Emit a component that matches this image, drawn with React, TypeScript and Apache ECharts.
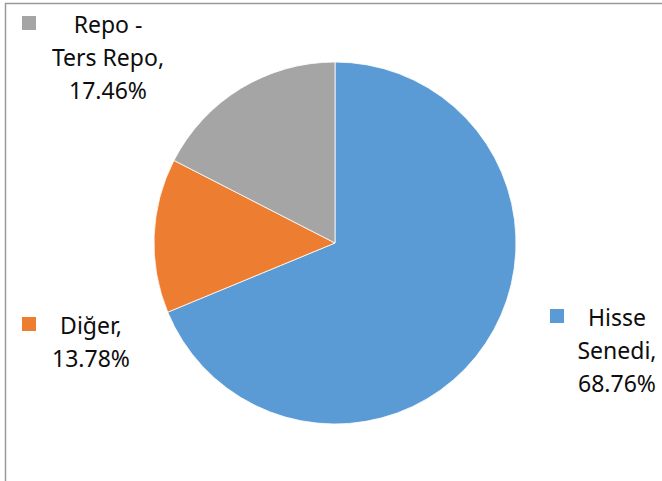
import React, { useEffect, useRef } from "react";
import * as echarts from "echarts";

const categories = ["Hisse Senedi", "Diğer", "Repo - Ters Repo"];
const values = [68.76, 13.78, 17.46];
const labelTexts = ["Hisse\nSenedi,", "Diğer,", "Repo -\nTers Repo,"];
const colors = ["#5B9BD5", "#ED7D31", "#A5A5A5"];

const labelPos = [
  [617, 350],
  [91, 341],
  [108, 57],
];
const markerPos = [
  [550, 309],
  [22, 317],
  [22, 16],
];

export default function App() {
  const ref = useRef<HTMLDivElement>(null);
  useEffect(() => {
    if (!ref.current) return;
    const chart = echarts.init(ref.current, undefined, { renderer: "svg" });
    chart.setOption({
      animation: false,
      backgroundColor: "#ffffff",
      color: colors,
      graphic: [
        {
          type: "polyline",
          shape: { points: [[5.5, 481], [5.5, 3.5], [662, 3.5]] },
          style: { stroke: "#9a9a9a", lineWidth: 1.5, fill: "none" },
          silent: true,
        },
        ...markerPos.map((p, i) => ({
          type: "rect",
          shape: { x: p[0], y: p[1], width: 14, height: 14 },
          style: { fill: colors[i] },
          silent: true,
        })),
      ],
      series: [
        {
          type: "pie",
          center: [335, 243],
          radius: 181,
          startAngle: 90,
          clockwise: true,
          itemStyle: { borderColor: "#ffffff", borderWidth: 0.8 },
          emphasis: { disabled: true },
          labelLine: { show: false },
          label: {
            show: true,
            formatter: (p: any) => `${labelTexts[p.dataIndex]}\n${values[p.dataIndex].toFixed(2)}%`,
            fontFamily: "Noto Sans",
            fontSize: 23,
            lineHeight: 33,
            color: "#0d0d0d",
            align: "center",
          },
          labelLayout: (params: any) => ({
            x: labelPos[params.dataIndex][0],
            y: labelPos[params.dataIndex][1],
            align: "center",
            verticalAlign: "middle",
          }),
          data: categories.map((c, i) => ({ name: c, value: values[i] })),
        },
      ],
    });
    return () => chart.dispose();
  }, []);
  return (
    <div
      ref={ref}
      style={{ position: "absolute", left: 0, top: 0, width: 662, height: 481 }}
    />
  );
}
